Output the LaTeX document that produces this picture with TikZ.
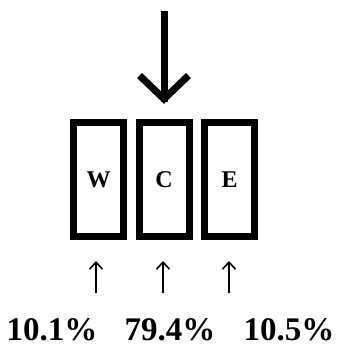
\documentclass[tikz,border=0pt]{standalone}
\usepackage{fontspec}
\setmainfont{Liberation Serif}
\usetikzlibrary{arrows.meta}
\tikzset{
  box/.style={draw, line width=7pt, minimum width=50pt, minimum height=114pt, inner sep=0pt, font=\fontsize{24}{24}\selectfont\bfseries},
  pct/.style={font=\fontsize{33}{33}\selectfont\bfseries, inner sep=0pt},
  bigarrow/.style={line width=7pt},
  smallarrow/.style={line width=1.6pt, -{Straight Barb[length=7pt,width=13pt,line width=1.6pt]}}
}
\begin{document}
\begin{tikzpicture}[x=1pt,y=-1pt]
\useasboundingbox (0,0) rectangle (338,347);
\node[box] (W) at (98.5,179.5) {W};
\node[box] (C) at (164,179.5) {C};
\node[box] (E) at (229.5,179.5) {E};
\coordinate (top) at (164,11);
\coordinate (tip) at ([yshift=17pt]C.north);
\draw[bigarrow] (top) -- (tip);
\draw[bigarrow] (139.5,75.5) -- (164,99) -- (188.5,75.5);
\node[pct] (p1) at (52,330) {10.1\%};
\node[pct] (p2) at (170,330) {79.4\%};
\node[pct] (p3) at (289,330) {10.5\%};
\coordinate (a1) at (96,293);
\coordinate (b1) at (96,261);
\coordinate (a2) at (163,293);
\coordinate (b2) at (163,261);
\coordinate (a3) at (229,293);
\coordinate (b3) at (229,261);
\draw[smallarrow] (a1) -- (b1);
\draw[smallarrow] (a2) -- (b2);
\draw[smallarrow] (a3) -- (b3);
\end{tikzpicture}
\end{document}
